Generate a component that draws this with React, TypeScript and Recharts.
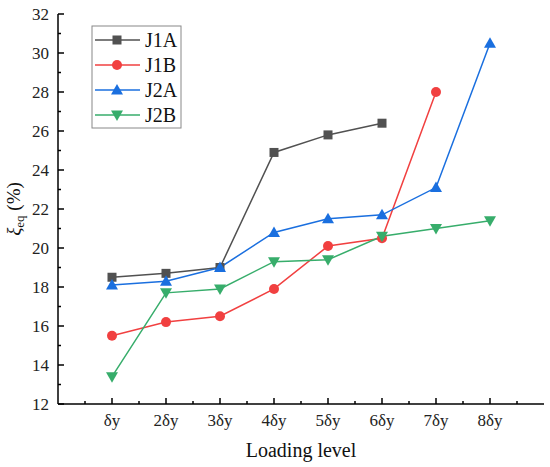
import React from "react";
import { LineChart, Line, XAxis, YAxis } from "recharts";

const categories = ["δy", "2δy", "3δy", "4δy", "5δy", "6δy", "7δy", "8δy"];
const seriesNames = ["J1A", "J1B", "J2A", "J2B"];
const seriesColors = ["#515151", "#F14040", "#1A6FDF", "#37AD6B"];
const seriesShapes = ["square", "circle", "triangleUp", "triangleDown"];
const j1a = [18.5, 18.7, 19.0, 24.9, 25.8, 26.4];
const j1b = [15.5, 16.2, 16.5, 17.9, 20.1, 20.5, 28.0];
const j2a = [18.1, 18.3, 19.0, 20.8, 21.5, 21.7, 23.1, 30.5];
const j2b = [13.4, 17.7, 17.9, 19.3, 19.4, 20.6, 21.0, 21.4];
const yTicks = [12, 13, 14, 15, 16, 17, 18, 19, 20, 21, 22, 23, 24, 25, 26, 27, 28, 29, 30, 31, 32];
const xTicks = [0.5, 1, 1.5, 2, 2.5, 3, 3.5, 4, 4.5, 5, 5.5, 6, 6.5, 7, 7.5, 8, 8.5];

const seriesValues = [j1a, j1b, j2a, j2b];
const data = categories.map((c, i) => {
  const row: any = { x: i + 1, label: c };
  seriesNames.forEach((n, k) => {
    const v = seriesValues[k][i];
    row[n] = v === undefined ? null : v;
  });
  return row;
});

const FONT = "'Liberation Serif', 'Times New Roman', serif";

function Marker({ shape, color, cx, cy }: any) {
  if (shape === "square") {
    return <rect x={cx - 4.5} y={cy - 4.5} width={9} height={9} fill={color} />;
  }
  if (shape === "circle") {
    return <circle cx={cx} cy={cy} r={5} fill={color} />;
  }
  if (shape === "triangleUp") {
    return (
      <polygon
        points={`${cx},${cy - 6} ${cx - 6},${cy + 4.5} ${cx + 6},${cy + 4.5}`}
        fill={color}
      />
    );
  }
  return (
    <polygon
      points={`${cx - 6},${cy - 4.5} ${cx + 6},${cy - 4.5} ${cx},${cy + 6}`}
      fill={color}
    />
  );
}

const makeDot = (shape: string, color: string) => (props: any) => {
  const { cx, cy, index } = props;
  if (cx == null || cy == null || props.value == null || (Array.isArray(props.value) && props.value[1] == null)) {
    return <g key={`d-${shape}-${index}`} />;
  }
  return (
    <g key={`d-${shape}-${index}`}>
      <Marker shape={shape} color={color} cx={cx} cy={cy} />
    </g>
  );
};

const XTick = (props: any) => {
  const { x, y, payload } = props;
  const v = payload.value;
  const major = Number.isInteger(v);
  return (
    <g>
      <line x1={x} x2={x} y1={y} y2={y - (major ? 6 : 3)} stroke="#000" strokeWidth={1.5} />
      {major && v >= 1 && v <= categories.length ? (
        <text x={x} y={y + 22} textAnchor="middle" fontFamily={FONT} fontSize={17} fill="#222">
          {categories[v - 1]}
        </text>
      ) : null}
    </g>
  );
};

const YTick = (props: any) => {
  const { x, y, payload } = props;
  const v = payload.value;
  const major = v % 2 === 0;
  return (
    <g>
      <line x1={x} x2={x + (major ? 6 : 3)} y1={y} y2={y} stroke="#000" strokeWidth={1.5} />
      {major ? (
        <text x={x - 9} y={y + 6} textAnchor="end" fontFamily={FONT} fontSize={17} fill="#222">
          {v}
        </text>
      ) : null}
    </g>
  );
};

function LegendBox() {
  return (
    <svg
      width={91}
      height={104}
      style={{ position: "absolute", left: 91, top: 25, overflow: "visible" }}
    >
      <rect x={1} y={1} width={89} height={102} fill="#fff" stroke="#888" strokeWidth={1} />
      {seriesNames.map((n, i) => {
        const cy = 15 + i * 25;
        return (
          <g key={n}>
            <line x1={4} x2={49} y1={cy} y2={cy} stroke={seriesColors[i]} strokeWidth={1.5} />
            <Marker shape={seriesShapes[i]} color={seriesColors[i]} cx={26} cy={cy} />
            <text x={54} y={cy + 7} fontFamily={FONT} fontSize={20} fill="#111">
              {n}
            </text>
          </g>
        );
      })}
    </svg>
  );
}

export default function App() {
  return (
    <div style={{ position: "absolute", left: 0, top: 0, width: 550, height: 467, background: "#fff" }}>
      <LineChart width={550} height={467} data={data} margin={{ top: 14, right: 6, left: 0, bottom: 0 }}>
        <XAxis
          dataKey="x"
          type="number"
          domain={[0, 9]}
          ticks={xTicks}
          interval={0}
          tick={XTick}
          tickLine={false}
          tickSize={0}
          tickMargin={0}
          height={63}
          axisLine={{ stroke: "#000", strokeWidth: 1.5 }}
          label={{
            value: "Loading level",
            position: "insideBottom",
            offset: 10,
            fontFamily: FONT,
            fontSize: 20,
            fill: "#111",
          }}
        />
        <XAxis
          xAxisId="top"
          orientation="top"
          type="number"
          domain={[0, 9]}
          height={0}
          tick={false}
          tickLine={false}
          axisLine={{ stroke: "#000", strokeWidth: 1.5 }}
        />
        <YAxis
          type="number"
          domain={[12, 32]}
          ticks={yTicks}
          interval={0}
          tick={YTick}
          tickLine={false}
          tickSize={0}
          tickMargin={0}
          width={58}
          allowDataOverflow
          axisLine={{ stroke: "#000", strokeWidth: 1.5 }}
          label={(p: any) => {
            const vb = p.viewBox || {};
            const cy = (vb.y ?? 14) + (vb.height ?? 390) / 2;
            return (
              <text
                transform={`translate(20, ${cy}) rotate(-90)`}
                textAnchor="middle"
                fontFamily={FONT}
                fontSize={19}
                fill="#111"
              >
                <tspan fontStyle="italic">ξ</tspan>
                <tspan fontSize={13} dy={4}>eq</tspan>
                <tspan dy={-4}> (%)</tspan>
              </text>
            );
          }}
        />
        <YAxis
          yAxisId="right"
          orientation="right"
          type="number"
          domain={[12, 32]}
          width={0}
          tick={false}
          tickLine={false}
          axisLine={{ stroke: "#000", strokeWidth: 1.5 }}
        />
        {seriesNames.map((n, i) => (
          <Line
            key={n}
            dataKey={n}
            type="linear"
            stroke={seriesColors[i]}
            strokeWidth={1.5}
            dot={makeDot(seriesShapes[i], seriesColors[i])}
            activeDot={false}
            isAnimationActive={false}
            connectNulls={false}
          />
        ))}
      </LineChart>
      <LegendBox />
    </div>
  );
}
